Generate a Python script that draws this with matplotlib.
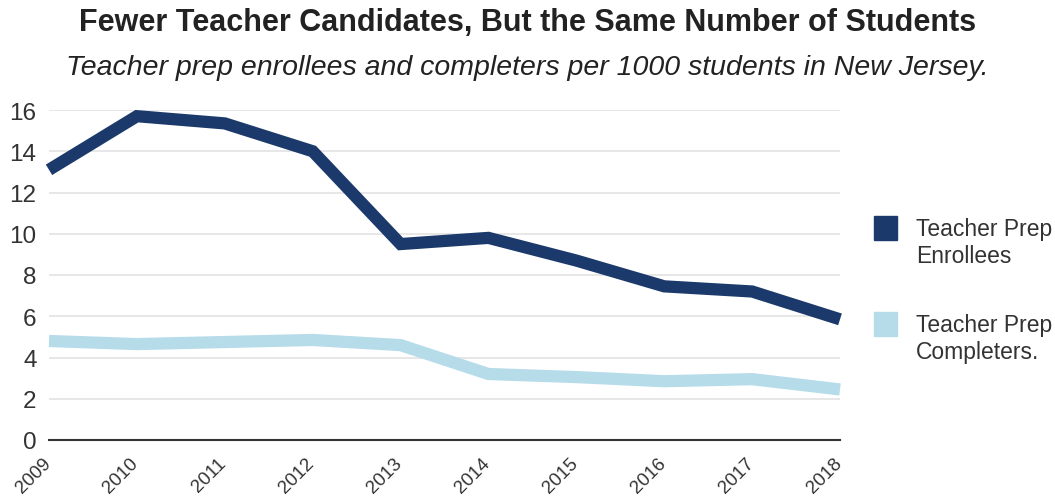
import matplotlib.pyplot as plt
import matplotlib.transforms as mtransforms
from matplotlib.patches import Rectangle

# teacher prep candidates per 1000 NJ students
years = [2009, 2010, 2011, 2012, 2013, 2014, 2015, 2016, 2017, 2018]
enrollees = [13.1, 15.7, 15.35, 14.0, 9.5, 9.8, 8.7, 7.45, 7.2, 5.85]
completers = [4.8, 4.65, 4.75, 4.85, 4.6, 3.2, 3.05, 2.85, 2.95, 2.45]
yticks = [0, 2, 4, 6, 8, 10, 12, 14, 16]

DARK = '#1b3a6b'
LIGHT = '#b6dcea'
TEXT = '#333333'

plt.rcParams['font.family'] = ['Liberation Sans', 'DejaVu Sans']

fig = plt.figure(figsize=(10.55, 5.02), dpi=100)
ax = fig.add_axes([49 / 1055, 1 - 441 / 502, (840 - 49) / 1055, (441 - 111) / 502])

ax.plot(years, completers, color=LIGHT, lw=8.8, solid_joinstyle='miter',
        solid_capstyle='butt', clip_on=False, zorder=3)
ax.plot(years, enrollees, color=DARK, lw=8.8, solid_joinstyle='miter',
        solid_capstyle='butt', clip_on=False, zorder=4)

ax.set_xlim(2009, 2018)
ax.set_ylim(0, 16)
ax.set_yticks(yticks)
ax.set_xticks(years)
ax.set_xticklabels([str(y) for y in years], rotation=45, ha='right',
                   rotation_mode='anchor', fontsize=13.5, color=TEXT)
ax.tick_params(axis='x', length=0, pad=10)
ax.tick_params(axis='y', length=0, pad=9, labelsize=17.5, labelcolor=TEXT)
# nudge rotated year labels a little to the left of their ticks
shift = mtransforms.ScaledTranslation(-7 / 100, 0, fig.dpi_scale_trans)
for lab in ax.get_xticklabels():
    lab.set_transform(lab.get_transform() + shift)

ax.yaxis.grid(True, color='#e3e3e3', lw=1.2)
ax.set_axisbelow(True)
for side in ['top', 'right', 'left']:
    ax.spines[side].set_visible(False)
ax.spines['bottom'].set_color('#333333')
ax.spines['bottom'].set_linewidth(1.5)

fig.text(0.5, 1 - 23 / 502, 'Fewer Teacher Candidates, But the Same Number of Students',
         ha='center', va='center', fontsize=22, fontweight='bold', color='#222222')
fig.text(0.5, 1 - 68 / 502, 'Teacher prep enrollees and completers per 1000 students in New Jersey.',
         ha='center', va='center', fontsize=20.5, style='italic', color='#222222')

# legend drawn by hand: square swatch plus two-line label
for color, label, yc in [(DARK, 'Teacher Prep\nEnrollees', 229),
                         (LIGHT, 'Teacher Prep\nCompleters.', 325)]:
    fig.patches.append(Rectangle((874 / 1055, 1 - (yc + 12) / 502), 23 / 1055, 24 / 502,
                                 transform=fig.transFigure, color=color))
    fig.text(916 / 1055, 1 - (yc + 14) / 502, label, ha='left', va='center',
             fontsize=16.5, color=TEXT, linespacing=1.25)

fig.savefig('out.png', dpi=100)
